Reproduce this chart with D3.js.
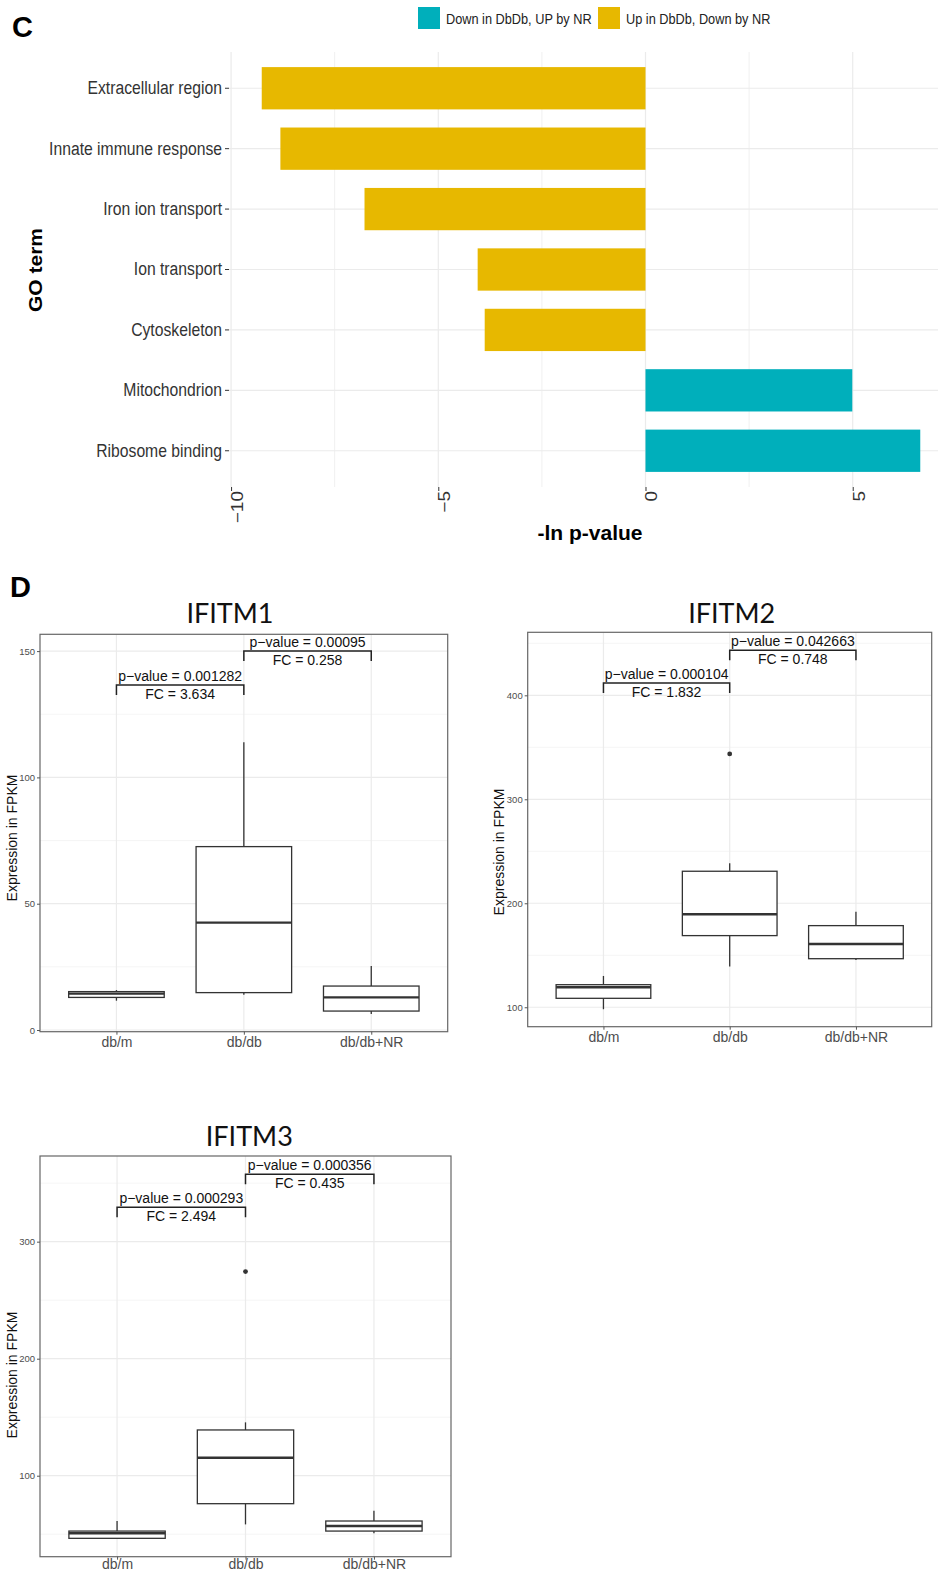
<!DOCTYPE html>
<html>
<head>
<meta charset="utf-8">
<script src="https://cdn.jsdelivr.net/npm/d3@7"></script>
<style>
  body { margin: 0; background: #fff; }
  svg { display: block; }
</style>
</head>
<body>
<svg id="fig" width="938" height="1573"></svg>
<script>
// ---- panel C: GO terms ----
const goTerms = ["Extracellular region", "Innate immune response", "Iron ion transport",
  "Ion transport", "Cytoskeleton", "Mitochondrion", "Ribosome binding"];
const goLnP = [-9.26, -8.81, -6.78, -4.05, -3.88, 4.99, 6.63];
const goGroup = ["up", "up", "up", "up", "up", "down", "down"];
const legendLabels = ["Down in DbDb, UP by NR", "Up in DbDb, Down by NR"];
const goTicks = [-10, -5, 0, 5];
const goMinor = [-7.5, -2.5, 2.5];

// ---- panel D: boxplots ----
const groups = ["db/m", "db/db", "db/db+NR"];
// each box: [lower whisker, q1, median, q3, upper whisker]
const ifitm1Box = [[11.6, 12.9, 14.4, 15.2, 15.8], [14.0, 14.8, 42.5, 72.6, 113.9], [6.3, 7.5, 12.9, 17.4, 25.3]];
const ifitm2Box = [[98.1, 108.6, 119.2, 121.7, 130.1], [139.1, 168.9, 189.4, 230.8, 238.5], [145.5, 146.7, 160.9, 178.5, 191.9]];
const ifitm3Box = [[46.5, 46.5, 50.8, 52.7, 61.3], [58.4, 76.1, 115.4, 139.1, 145.6], [50.8, 52.7, 57.0, 61.3, 70.1]];
const ifitm1Out = [[], [], []];
const ifitm2Out = [[], [343.6], []];
const ifitm3Out = [[], [274.4], []];
const comparisons = [[0, 1], [1, 2]];
const ifitm1P = ["0.001282", "0.00095"], ifitm1FC = ["3.634", "0.258"], ifitm1Brk = [136.6, 150.0];
const ifitm2P = ["0.000104", "0.042663"], ifitm2FC = ["1.832", "0.748"], ifitm2Brk = [411.8, 443.3];
const ifitm3P = ["0.000293", "0.000356"], ifitm3FC = ["2.494", "0.435"], ifitm3Brk = [329.4, 357.6];
const ifitm1Ticks = [0, 50, 100, 150], ifitm1Minor = [25, 75, 125];
const ifitm2Ticks = [100, 200, 300, 400], ifitm2Minor = [150, 250, 350, 450];
const ifitm3Ticks = [100, 200, 300], ifitm3Minor = [50, 150, 250, 350];

const svg = d3.select("#fig");
const sans = "'Liberation Sans', Arial, sans-serif";
const squeeze = "scale(0.85,1)"; // panel C text is horizontally condensed
const colors = { down: "#00AFBB", up: "#E7B800" };

// ================= panel C =================
const cx = d3.scaleLinear().domain([-10.05, 7.42]).range([229, 953]);
const cy = d3.scaleBand().domain(goTerms).range([52, 487]).paddingInner(0.3).paddingOuter(0.25);

const gc = svg.append("g");
gc.selectAll(".minor").data(goMinor).enter().append("line")
  .attr("x1", d => cx(d)).attr("x2", d => cx(d))
  .attr("y1", 52).attr("y2", 487)
  .attr("stroke", "#F0F0F0").attr("stroke-width", 1);
gc.selectAll(".major").data(goTicks).enter().append("line")
  .attr("x1", d => cx(d)).attr("x2", d => cx(d))
  .attr("y1", 52).attr("y2", 487)
  .attr("stroke", "#EBEBEB").attr("stroke-width", 1.2);
gc.selectAll(".hgrid").data(goTerms).enter().append("line")
  .attr("x1", 229).attr("x2", 953)
  .attr("y1", d => cy(d) + cy.bandwidth() / 2).attr("y2", d => cy(d) + cy.bandwidth() / 2)
  .attr("stroke", "#EBEBEB").attr("stroke-width", 1.2);

gc.selectAll("rect.bar").data(goTerms).enter().append("rect")
  .attr("x", (d, i) => cx(Math.min(0, goLnP[i])))
  .attr("width", (d, i) => Math.abs(cx(goLnP[i]) - cx(0)))
  .attr("y", d => cy(d))
  .attr("height", cy.bandwidth())
  .attr("fill", (d, i) => colors[goGroup[i]]);

const yAx = gc.append("g").attr("transform", "translate(229,0)")
  .call(d3.axisLeft(cy).tickSize(4).tickPadding(3));
yAx.select(".domain").remove();
yAx.selectAll("line").attr("stroke", "#333");
yAx.selectAll("text")
  .attr("x", null)
  .attr("transform", "translate(-7,0) " + squeeze)
  .attr("font-family", sans).attr("font-size", 18.5).attr("fill", "#333");

const xAx = gc.append("g").attr("transform", "translate(0,487)")
  .call(d3.axisBottom(cx).tickValues(goTicks).tickSize(4));
xAx.select(".domain").remove();
xAx.selectAll("line").attr("stroke", "#333");
xAx.selectAll("text")
  .attr("y", null).attr("dy", null)
  .attr("text-anchor", "end")
  .attr("transform", "translate(11.5,4) " + squeeze + " rotate(-90)")
  .attr("font-family", sans).attr("font-size", 19).attr("fill", "#333");

gc.append("text").attr("x", 590).attr("y", 540).attr("text-anchor", "middle")
  .attr("font-family", sans).attr("font-weight", "bold").attr("font-size", 21)
  .text("-ln p-value");
gc.append("text").attr("transform", "translate(42,270) " + squeeze + " rotate(-90)")
  .attr("text-anchor", "middle")
  .attr("font-family", sans).attr("font-weight", "bold").attr("font-size", 21)
  .text("GO term");

// legend
const legX = [418, 598];
const leg = gc.selectAll(".leg").data(legendLabels).enter().append("g")
  .attr("transform", (d, i) => "translate(" + legX[i] + ",7)");
leg.append("rect").attr("width", 22).attr("height", 22)
  .attr("fill", (d, i) => i === 0 ? colors.down : colors.up);
leg.append("text").attr("transform", "translate(28,16.5) " + squeeze)
  .attr("font-family", sans).attr("font-size", 15).attr("fill", "#222")
  .text(d => d);

svg.append("text").attr("x", 12).attr("y", 36.5)
  .attr("font-family", sans).attr("font-weight", "bold").attr("font-size", 29).text("C");
svg.append("text").attr("x", 10).attr("y", 597)
  .attr("font-family", sans).attr("font-weight", "bold").attr("font-size", 29).text("D");

// ================= panel D =================
function boxPanel(p) {
  const g = svg.append("g");
  const x = d3.scalePoint().domain(groups).range([p.x0, p.x1]).padding(0.6);
  const y = d3.scaleLinear().domain(p.domain).range([p.y1, p.y0]);
  const bw = x.step() * 0.75;

  g.selectAll(".minor").data(p.minor).enter().append("line")
    .attr("x1", p.x0).attr("x2", p.x1)
    .attr("y1", d => y(d)).attr("y2", d => y(d))
    .attr("stroke", "#F2F2F2").attr("stroke-width", 0.8);
  g.selectAll(".major").data(p.ticks).enter().append("line")
    .attr("x1", p.x0).attr("x2", p.x1)
    .attr("y1", d => y(d)).attr("y2", d => y(d))
    .attr("stroke", "#EBEBEB").attr("stroke-width", 1.2);
  g.selectAll(".vgrid").data(groups).enter().append("line")
    .attr("x1", d => x(d)).attr("x2", d => x(d))
    .attr("y1", p.y0).attr("y2", p.y1)
    .attr("stroke", "#EBEBEB").attr("stroke-width", 1.2);

  const bx = g.selectAll(".box").data(p.box).enter().append("g");
  bx.append("line")
    .attr("x1", (d, i) => x(groups[i])).attr("x2", (d, i) => x(groups[i]))
    .attr("y1", d => y(d[0])).attr("y2", d => y(d[1]))
    .attr("stroke", "#333").attr("stroke-width", 1.3);
  bx.append("line")
    .attr("x1", (d, i) => x(groups[i])).attr("x2", (d, i) => x(groups[i]))
    .attr("y1", d => y(d[3])).attr("y2", d => y(d[4]))
    .attr("stroke", "#333").attr("stroke-width", 1.3);
  bx.append("rect")
    .attr("x", (d, i) => x(groups[i]) - bw / 2).attr("width", bw)
    .attr("y", d => y(d[3])).attr("height", d => y(d[1]) - y(d[3]))
    .attr("fill", "#fff").attr("stroke", "#333").attr("stroke-width", 1.3);
  bx.append("line")
    .attr("x1", (d, i) => x(groups[i]) - bw / 2).attr("x2", (d, i) => x(groups[i]) + bw / 2)
    .attr("y1", d => y(d[2])).attr("y2", d => y(d[2]))
    .attr("stroke", "#333").attr("stroke-width", 2.4);
  p.out.forEach((vals, i) => {
    g.selectAll(null).data(vals).enter().append("circle")
      .attr("cx", x(groups[i])).attr("cy", d => y(d)).attr("r", 2.4).attr("fill", "#333");
  });

  g.append("rect").attr("x", p.x0).attr("y", p.y0)
    .attr("width", p.x1 - p.x0).attr("height", p.y1 - p.y0)
    .attr("fill", "none").attr("stroke", "#666").attr("stroke-width", 1.2);

  const ya = g.append("g").attr("transform", "translate(" + p.x0 + ",0)")
    .call(d3.axisLeft(y).tickValues(p.ticks).tickSize(3).tickPadding(2));
  ya.select(".domain").remove();
  ya.selectAll("line").attr("stroke", "#555");
  ya.selectAll("text").attr("font-family", sans).attr("font-size", 9.5).attr("fill", "#4D4D4D");

  const xa = g.append("g").attr("transform", "translate(0," + p.y1 + ")")
    .call(d3.axisBottom(x).tickSize(3));
  xa.select(".domain").remove();
  xa.selectAll("line").attr("stroke", "#555");
  xa.selectAll("text").attr("y", p.xlabOff).attr("dy", null)
    .attr("font-family", sans).attr("font-size", 14).attr("fill", "#4D4D4D");

  comparisons.forEach((c, k) => {
    const xa0 = x(groups[c[0]]), xa1 = x(groups[c[1]]), yb = y(p.brk[k]);
    g.append("path")
      .attr("d", "M" + xa0 + "," + (yb + 10) + "V" + yb + "H" + xa1 + "V" + (yb + 10))
      .attr("fill", "none").attr("stroke", "#222").attr("stroke-width", 1.5);
    g.append("text").attr("x", (xa0 + xa1) / 2).attr("y", yb - 4)
      .attr("text-anchor", "middle").attr("font-family", sans).attr("font-size", 14).attr("fill", "#111")
      .text("p\u2212value = " + p.pv[k]);
    g.append("text").attr("x", (xa0 + xa1) / 2).attr("y", yb + 14)
      .attr("text-anchor", "middle").attr("font-family", sans).attr("font-size", 14).attr("fill", "#111")
      .text("FC = " + p.fc[k]);
  });

  g.append("text").attr("x", p.titleX).attr("y", p.titleY).attr("text-anchor", "middle")
    .attr("font-family", "Lato, 'Open Sans', sans-serif").attr("font-size", 27).attr("fill", "#111")
    .text(p.title);
  g.append("text")
    .attr("transform", "translate(" + p.labX + "," + p.labY + ") rotate(-90)")
    .attr("text-anchor", "middle").attr("font-family", sans).attr("font-size", 14).attr("fill", "#111")
    .text("Expression in FPKM");
}

boxPanel({ title: "IFITM1", x0: 40, x1: 447.7, y0: 634.3, y1: 1031.7, domain: [-0.67, 156.65],
  ticks: ifitm1Ticks, minor: ifitm1Minor, box: ifitm1Box, out: ifitm1Out,
  pv: ifitm1P, fc: ifitm1FC, brk: ifitm1Brk, titleX: 230, titleY: 622.7, labX: 17, labY: 838, xlabOff: 15.5 });
boxPanel({ title: "IFITM2", x0: 527.7, x1: 931.7, y0: 632.3, y1: 1026.7, domain: [81.3, 460.6],
  ticks: ifitm2Ticks, minor: ifitm2Minor, box: ifitm2Box, out: ifitm2Out,
  pv: ifitm2P, fc: ifitm2FC, brk: ifitm2Brk, titleX: 731.7, titleY: 622.7, labX: 504, labY: 852, xlabOff: 15.5 });
boxPanel({ title: "IFITM3", x0: 40, x1: 451, y0: 1156, y1: 1556.7, domain: [30.8, 373.2],
  ticks: ifitm3Ticks, minor: ifitm3Minor, box: ifitm3Box, out: ifitm3Out,
  pv: ifitm3P, fc: ifitm3FC, brk: ifitm3Brk, titleX: 249.3, titleY: 1146, labX: 17, labY: 1375, xlabOff: 12.5 });
</script>
</body>
</html>
